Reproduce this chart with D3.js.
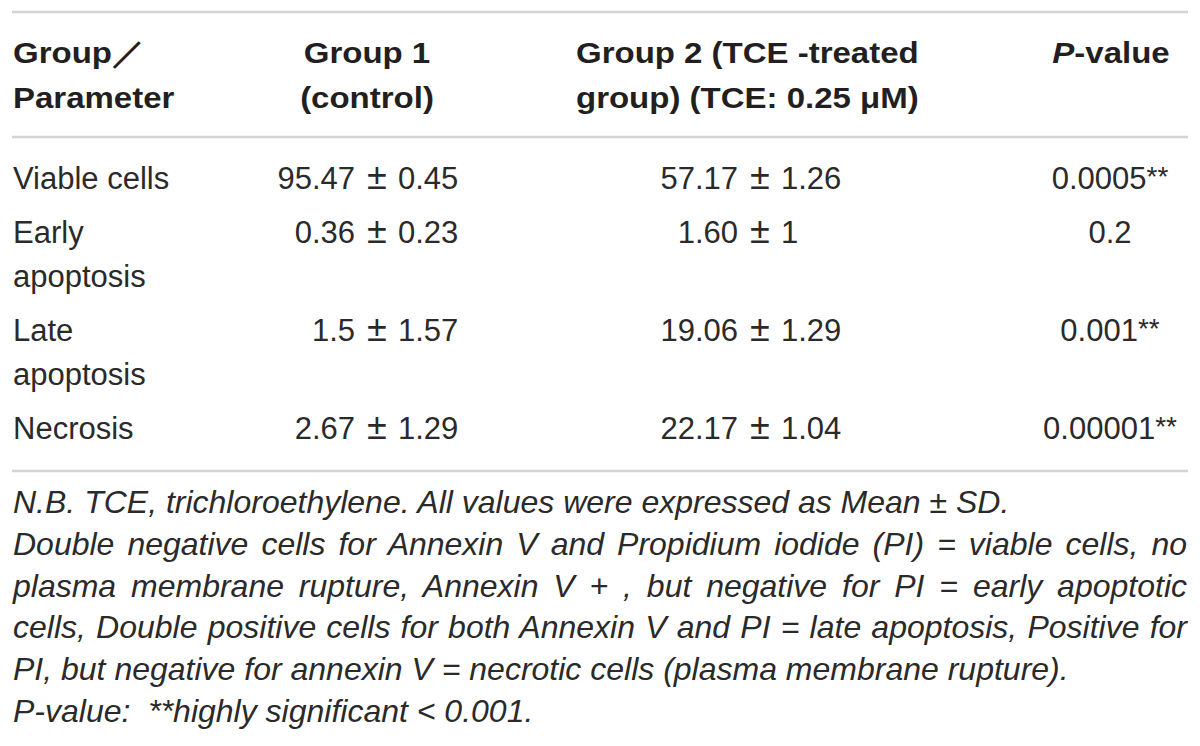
<!DOCTYPE html>
<html>
<head>
<meta charset="utf-8">
<script src="https://cdn.jsdelivr.net/npm/d3@7"></script>
<style>
  body { margin: 0; background: #fff; }
  text { font-family: "Liberation Sans", Arial, sans-serif; fill: #231f20; }
  .head { font-weight: bold; font-size: 30px; }
  .cell { font-size: 31px; fill: #2a2a2a; }
  .note { font-size: 32px; font-style: italic; fill: #2a2a2a; }
</style>
</head>
<body>
<div id="table"></div>
<script>
// table content
var parameters = [["Viable cells"], ["Early", "apoptosis"], ["Late", "apoptosis"], ["Necrosis"]];
var group1Mean = ["95.47", "0.36", "1.5", "2.67"];
var group1SD   = ["0.45", "0.23", "1.57", "1.29"];
var group2Mean = ["57.17", "1.60", "19.06", "22.17"];
var group2SD   = ["1.26", "1", "1.29", "1.04"];
var pValues    = ["0.0005", "0.2", "0.001", "0.00001"];
var pStars     = ["**", "", "**", "**"];

var headers = [
    {lines: ["Group\uFF0F", "Parameter"], x: 13, anchor: "start"},
    {lines: ["Group 1", "(control)"], x: 367, anchor: "middle"},
    {lines: ["Group 2 (TCE -treated", "group) (TCE: 0.25 \u03BCM)"], x: 576, anchor: "start"},
    {lines: ["P-value"], x: 1111, anchor: "middle"}
];

var notes = [
    {text: "N.B. TCE, trichloroethylene. All values were expressed as Mean \u00B1 SD.", justify: false},
    {text: "Double negative cells for Annexin V and Propidium iodide (PI) = viable cells, no", justify: true},
    {text: "plasma membrane rupture, Annexin V + , but negative for PI = early apoptotic", justify: true},
    {text: "cells, Double positive cells for both Annexin V and PI = late apoptosis, Positive for", justify: true},
    {text: "PI, but negative for annexin V = necrotic cells (plasma membrane rupture).", justify: false},
    {text: "P-value:  **highly significant < 0.001.", justify: false}
];

var width = 1200, height = 746;
var left = 12, right = 1188;
var lineH = 44.5;

var svg = d3.select("#table").append("svg")
    .attr("width", width)
    .attr("height", height);

// rules
[12, 137, 471].forEach(function(y) {
    svg.append("line")
        .attr("x1", left).attr("x2", right)
        .attr("y1", y).attr("y2", y)
        .attr("stroke", "#d4d4d4")
        .attr("stroke-width", 2.5);
});

// header (the bold face in the original is a bit wider, so stretch it sideways)
headers.forEach(function(h) {
    h.lines.forEach(function(l, i) {
        var t = svg.append("g")
            .attr("transform", "translate(" + h.x + "," + (63 + i * 45) + ") scale(1.1,1)")
            .append("text")
            .attr("class", "head")
            .attr("text-anchor", h.anchor);
        if (l === "P-value") {
            t.append("tspan").style("font-style", "italic").text("P");
            t.append("tspan").text("-value");
        } else {
            t.text(l);
        }
    });
});

// row baselines from line counts
var rowY = [];
var y = 189;
parameters.forEach(function(p) {
    rowY.push(y);
    y += p.length * lineH + 9;
});

var rows = svg.selectAll("g.row")
    .data(parameters.map(function(p, i) {
        return {label: p, m1: group1Mean[i], s1: group1SD[i], m2: group2Mean[i], s2: group2SD[i],
                p: pValues[i], star: pStars[i], y: rowY[i]};
    }))
    .enter().append("g")
    .attr("class", "row")
    .attr("transform", function(d) { return "translate(0," + d.y + ")"; });

rows.each(function(d) {
    var g = d3.select(this);
    d.label.forEach(function(l, i) {
        g.append("text").attr("class", "cell").attr("x", 13).attr("y", i * lineH).text(l);
    });
    // mean ± sd aligned on the ± sign
    [[377, d.m1, d.s1], [760, d.m2, d.s2]].forEach(function(c) {
        g.append("text").attr("class", "cell").attr("x", c[0] - 22).attr("text-anchor", "end").text(c[1]);
        g.append("text").attr("class", "cell").attr("x", c[0]).attr("text-anchor", "middle")
            .style("font-size", "36px").text("\u00B1");
        g.append("text").attr("class", "cell").attr("x", c[0] + 21).attr("text-anchor", "start").text(c[2]);
    });
    var pt = g.append("text").attr("class", "cell").attr("x", 1110).attr("text-anchor", "middle");
    pt.append("tspan").text(d.p);
    if (d.star) pt.append("tspan").style("font-size", "28px").attr("dy", -3).text(d.star);
});

// footnote, justified lines spread by word spacing
notes.forEach(function(n, i) {
    var t = svg.append("text")
        .attr("class", "note")
        .attr("x", 13)
        .attr("y", 513 + i * 41.8)
        .attr("xml:space", "preserve")
        .text(n.text);
    if (n.justify) {
        var natural = t.node().getComputedTextLength();
        var gaps = n.text.split(" ").length - 1;
        t.style("word-spacing", ((right - 1 - 13 - natural) / gaps) + "px");
    }
});
</script>
</body>
</html>
